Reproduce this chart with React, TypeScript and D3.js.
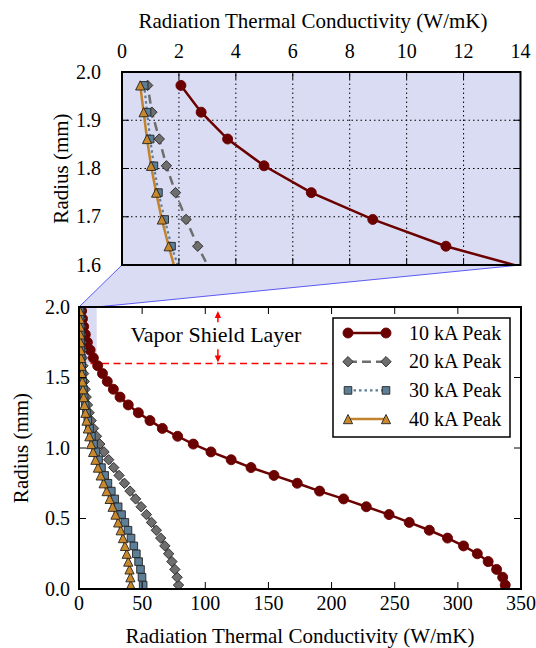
import { useEffect, useRef } from 'react';
import * as d3 from 'd3';

// radius of each computed shell (mm)
const radius = [
  0.0278, 0.0833, 0.1389, 0.1944, 0.25, 0.3056, 0.3611, 0.4167, 0.4722, 0.5278, 0.5833, 0.6389,
  0.6944, 0.75, 0.8056, 0.8611, 0.9167, 0.9722, 1.0278, 1.0833, 1.1389, 1.1944, 1.25, 1.3056,
  1.3611, 1.4167, 1.4722, 1.5278, 1.5833, 1.6389, 1.6944, 1.75, 1.8056, 1.8611, 1.9167, 1.9722,
];

// radiation thermal conductivity (W/mK) per peak current
const peak10 = [
  337.5, 335.5, 330.7, 324.0, 315.4, 304.5, 291.8, 277.4, 261.5, 245.5, 227.5, 209.5,
  190.5, 172.8, 154.4, 136.2, 120.5, 104.5, 90.5, 78.1, 66.0, 56.2, 47.0, 39.0,
  32.5, 27.2, 22.4, 18.6, 14.8, 11.38, 8.81, 6.65, 4.99, 3.71, 2.78, 2.07,
];
const peak20 = [
  78.8, 77.7, 75.9, 73.6, 71.0, 68.0, 64.7, 61.2, 57.4, 53.4, 49.2, 44.8,
  40.4, 36.0, 31.7, 27.5, 23.5, 19.8, 16.5, 13.8, 11.5, 9.6, 8.0, 6.7,
  5.7, 4.9, 4.2, 3.65, 3.15, 2.66, 2.25, 1.88, 1.56, 1.31, 1.05, 0.9,
];
const peak30 = [
  50.8, 49.9, 48.7, 47.2, 45.4, 43.4, 41.2, 38.8, 36.3, 33.7, 31.0, 28.3,
  25.6, 22.9, 20.3, 17.8, 15.5, 13.4, 11.5, 9.8, 8.3, 7.0, 5.9, 4.9,
  4.1, 3.45, 2.9, 2.45, 2.05, 1.74, 1.5, 1.28, 1.12, 0.99, 0.88, 0.78,
];
const peak40 = [
  41.0, 40.7, 40.0, 39.0, 37.8, 36.4, 34.8, 33.0, 31.0, 28.9, 26.6, 24.3,
  21.9, 19.5, 17.2, 15.0, 13.0, 11.2, 9.6, 8.2, 7.0, 6.0, 5.1, 4.3,
  3.65, 3.1, 2.65, 2.25, 1.9, 1.64, 1.4, 1.2, 1.02, 0.88, 0.76, 0.64,
];
const seriesNames = ['10 kA Peak', '20 kA Peak', '30 kA Peak', '40 kA Peak'];

const mainXTicks = [0, 50, 100, 150, 200, 250, 300, 350];
const mainYTicks = [0, 0.5, 1.0, 1.5, 2.0];
const insetXTicks = [0, 2, 4, 6, 8, 10, 12, 14];
const insetYTicks = [1.6, 1.7, 1.8, 1.9, 2.0];

const xTitle = 'Radiation Thermal Conductivity (W/mK)';
const yTitle = 'Radius (mm)';
const shieldLabel = 'Vapor Shield Layer';
const shieldRadius = 1.6;
const shieldLabelX = 110;
const shieldLineEnd = 210;

const W = 536;
const H = 648;
const FONT = "'Liberation Serif', 'Times New Roman', 'DejaVu Serif', serif";
const ZOOM_FILL = '#d9dcf2';

const styles = [
  { color: '#6b0000', marker: 'circle', dash: null, width: 2.5, fill: '#6b0000', edge: '#6b0000' },
  { color: '#6e6e6e', marker: 'diamond', dash: '9,5', width: 2.5, fill: '#6e6e6e', edge: '#262626' },
  { color: '#5c7e97', marker: 'square', dash: '2.5,3', width: 2.2, fill: '#5c7e97', edge: '#222' },
  { color: '#c3822c', marker: 'triangle', dash: null, width: 2.5, fill: '#c8882b', edge: '#222' },
];

function markerPath(kind: string, cx: number, cy: number) {
  if (kind === 'circle') {
    const r = 5;
    return `M${cx - r},${cy}a${r},${r} 0 1,0 ${2 * r},0a${r},${r} 0 1,0 ${-2 * r},0Z`;
  }
  if (kind === 'diamond') {
    const s = 5.2;
    return `M${cx},${cy - s}L${cx + s},${cy}L${cx},${cy + s}L${cx - s},${cy}Z`;
  }
  if (kind === 'square') {
    const s = 3.8;
    return `M${cx - s},${cy - s}h${2 * s}v${2 * s}h${-2 * s}Z`;
  }
  const s = 4.6;
  return `M${cx},${cy - s}L${cx + s},${cy + s}L${cx - s},${cy + s}Z`;
}

export default function App() {
  const ref = useRef<SVGSVGElement>(null);

  useEffect(() => {
    if (!ref.current) return;
    const svg = d3.select(ref.current);
    svg.selectAll('*').remove();

    const series = [peak10, peak20, peak30, peak40].map((vals, k) => ({
      name: seriesNames[k],
      ...styles[k],
      points: vals.map((v, i) => ({ k: v, r: radius[i] })),
    }));

    // scales
    const x = d3.scaleLinear().domain(d3.extent(mainXTicks) as [number, number]).range([79, 521]);
    const y = d3.scaleLinear().domain(d3.extent(mainYTicks) as [number, number]).range([589, 307]);
    const xi = d3.scaleLinear().domain(d3.extent(insetXTicks) as [number, number]).range([122, 520.5]);
    const yi = d3.scaleLinear().domain(d3.extent(insetYTicks) as [number, number]).range([265, 72]);

    const defs = svg.append('defs');
    defs.append('clipPath').attr('id', 'clip-main')
      .append('rect').attr('x', x(0)).attr('y', y(2)).attr('width', x(350) - x(0)).attr('height', y(0) - y(2));
    defs.append('clipPath').attr('id', 'clip-inset')
      .append('rect').attr('x', xi(0)).attr('y', yi(2)).attr('width', xi(14) - xi(0)).attr('height', yi(1.6) - yi(2));

    const [zx0, zx1] = d3.extent(insetXTicks) as [number, number];
    const [zy0, zy1] = d3.extent(insetYTicks) as [number, number];

    // connector between zoomed region and inset
    svg.append('path')
      .attr('d', `M${xi(zx0)},${yi(zy0)}L${xi(zx1)},${yi(zy0)}L${x(zx1)},${y(zy1)}L${x(zx0)},${y(zy1)}Z`)
      .attr('fill', ZOOM_FILL);
    [zx0, zx1].forEach(v => {
      svg.append('line')
        .attr('x1', xi(v)).attr('y1', yi(zy0)).attr('x2', x(v)).attr('y2', y(zy1))
        .attr('stroke', '#4a4af5').attr('stroke-width', 0.9);
    });

    const drawSeries = (g: any, sx: any, sy: any, clipId: string) => {
      const layer = g.append('g').attr('clip-path', `url(#${clipId})`);
      series.forEach(s => {
        const line = d3.line<any>().x(d => sx(d.k)).y(d => sy(d.r));
        layer.append('path')
          .datum(s.points)
          .attr('fill', 'none')
          .attr('stroke', s.color)
          .attr('stroke-width', s.width)
          .attr('stroke-dasharray', s.dash)
          .attr('d', line);
        layer.selectAll(null)
          .data(s.points)
          .enter()
          .append('path')
          .attr('d', (d: any) => markerPath(s.marker, sx(d.k), sy(d.r)))
          .attr('fill', s.fill)
          .attr('stroke', s.edge)
          .attr('stroke-width', 0.9);
      });
    };

    const frame = (g: any, sx: any, sy: any, xt: number[], yt: number[]) => {
      const [l, r] = sx.range();
      const [b, t] = sy.range();
      const len = 7;
      xt.forEach(v => {
        g.append('line').attr('x1', sx(v)).attr('x2', sx(v)).attr('y1', b).attr('y2', b - len).attr('stroke', '#000');
        g.append('line').attr('x1', sx(v)).attr('x2', sx(v)).attr('y1', t).attr('y2', t + len).attr('stroke', '#000');
      });
      yt.forEach(v => {
        g.append('line').attr('x1', l).attr('x2', l + len).attr('y1', sy(v)).attr('y2', sy(v)).attr('stroke', '#000');
        g.append('line').attr('x1', r).attr('x2', r - len).attr('y1', sy(v)).attr('y2', sy(v)).attr('stroke', '#000');
      });
      g.append('rect')
        .attr('x', l).attr('y', t).attr('width', r - l).attr('height', b - t)
        .attr('fill', 'none').attr('stroke', '#000').attr('stroke-width', 2);
    };

    const label = (g: any, size: number) =>
      g.append('text').style('font-family', FONT).style('font-size', `${size}px`).attr('fill', '#000');

    // ---------- inset ----------
    const inset = svg.append('g');
    inset.append('rect')
      .attr('x', xi(zx0)).attr('y', yi(zy1)).attr('width', xi(zx1) - xi(zx0)).attr('height', yi(zy0) - yi(zy1))
      .attr('fill', ZOOM_FILL);
    insetXTicks.slice(1, -1).forEach(v => {
      inset.append('line').attr('x1', xi(v)).attr('x2', xi(v)).attr('y1', yi(zy0)).attr('y2', yi(zy1))
        .attr('stroke', '#000').attr('stroke-width', 1).attr('stroke-dasharray', '1.5,3');
    });
    insetYTicks.slice(1, -1).forEach(v => {
      inset.append('line').attr('x1', xi(zx0)).attr('x2', xi(zx1)).attr('y1', yi(v)).attr('y2', yi(v))
        .attr('stroke', '#000').attr('stroke-width', 1).attr('stroke-dasharray', '1.5,3');
    });
    drawSeries(inset, xi, yi, 'clip-inset');
    frame(inset, xi, yi, insetXTicks, insetYTicks);
    insetXTicks.forEach(v => {
      label(inset, 20).attr('x', xi(v)).attr('y', 58).attr('text-anchor', 'middle').text(String(v));
    });
    insetYTicks.forEach(v => {
      label(inset, 20).attr('x', 101).attr('y', yi(v)).attr('dy', '0.33em').attr('text-anchor', 'end').text(v.toFixed(1));
    });
    label(inset, 21).attr('x', 313).attr('y', 28).attr('text-anchor', 'middle').text(xTitle);
    label(inset, 21).attr('transform', `translate(68,${(yi(zy0) + yi(zy1)) / 2}) rotate(-90)`)
      .attr('text-anchor', 'middle').text(yTitle);

    // ---------- main plot ----------
    const main = svg.append('g');
    main.append('rect')
      .attr('x', x(zx0)).attr('y', y(zy1)).attr('width', x(zx1) - x(zx0)).attr('height', y(zy0) - y(zy1))
      .attr('fill', ZOOM_FILL);
    main.append('line')
      .attr('x1', x(0)).attr('x2', x(shieldLineEnd)).attr('y1', y(shieldRadius)).attr('y2', y(shieldRadius))
      .attr('stroke', '#ff0000').attr('stroke-width', 1.5).attr('stroke-dasharray', '7,4.5');

    drawSeries(main, x, y, 'clip-main');
    frame(main, x, y, mainXTicks, mainYTicks);

    mainXTicks.forEach(v => {
      label(main, 20).attr('x', x(v)).attr('y', 609.5).attr('text-anchor', 'middle').text(String(v));
    });
    mainYTicks.forEach(v => {
      label(main, 20).attr('x', 70).attr('y', y(v)).attr('dy', '0.33em').attr('text-anchor', 'end').text(v.toFixed(1));
    });
    label(main, 21).attr('x', (x(0) + x(350)) / 2).attr('y', 643).attr('text-anchor', 'middle').text(xTitle);
    label(main, 21).attr('transform', `translate(28,${(y(0) + y(2)) / 2}) rotate(-90)`)
      .attr('text-anchor', 'middle').text(yTitle);

    // vapor shield annotation
    const ax = x(shieldLabelX);
    const midR = (zy1 + shieldRadius) / 2;
    label(main, 22).attr('x', ax - 2).attr('y', y(midR)).attr('dy', '0.33em').attr('text-anchor', 'middle').text(shieldLabel);
    const arrow = (from: number, to: number) => {
      const dir = Math.sign(to - from);
      main.append('line').attr('x1', ax).attr('x2', ax).attr('y1', from).attr('y2', to - dir * 5)
        .attr('stroke', '#ff0000').attr('stroke-width', 1.5);
      main.append('path')
        .attr('d', `M${ax},${to}L${ax - 3.2},${to - dir * 7}L${ax + 3.2},${to - dir * 7}Z`)
        .attr('fill', '#ff0000');
    };
    arrow(y(midR) - 13, y(zy1) + 4);
    arrow(y(midR) + 14, y(shieldRadius) - 1);

    // legend
    const lg = main.append('g');
    lg.append('rect').attr('x', 333).attr('y', 318).attr('width', 177).attr('height', 119)
      .attr('fill', '#fff').attr('stroke', '#000').attr('stroke-width', 1.5);
    series.forEach((s, k) => {
      const ly = 333 + k * 28.7;
      lg.append('line').attr('x1', 348).attr('x2', 386).attr('y1', ly).attr('y2', ly)
        .attr('stroke', s.color).attr('stroke-width', s.width).attr('stroke-dasharray', s.dash);
      [348, 386].forEach(mx => {
        lg.append('path').attr('d', markerPath(s.marker, mx, ly))
          .attr('fill', s.fill).attr('stroke', s.edge).attr('stroke-width', 0.9);
      });
      label(lg, 20).attr('x', 409).attr('y', ly).attr('dy', '0.33em').text(s.name);
    });
  }, []);

  return (
    <svg
      ref={ref}
      width={W}
      height={H}
      style={{ position: 'absolute', left: 0, top: 0, background: '#fff' }}
    />
  );
}
